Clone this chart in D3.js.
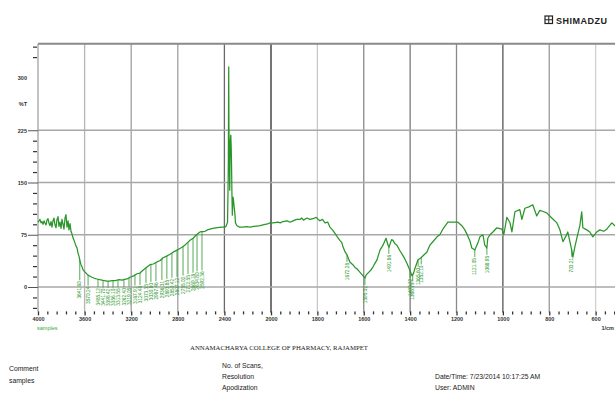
<!DOCTYPE html>
<html><head><meta charset="utf-8">
<script src="https://cdn.jsdelivr.net/npm/d3@7"></script>
<style>body{margin:0;background:#fff}svg{display:block;font-family:Arial,"Liberation Sans",sans-serif}</style>
</head><body><svg id="c" width="615" height="393"></svg>
<script>
// ---- data (wavenumber in 1/cm, %T) ----
const wavenumbers = [4000,3991,3983,3974,3966,3957,3948,3940,3931,3923,3914,3905,3897,3888,3880,3871,3863,3854,3845,3837,3828,3820,3811,3802,3794,3785,3777,3768,3760,3751,3742,3734,3725,3717,3708,3700,
3691,3682,3674,3665,3657,3648,3639,3631,3622,3614,3600,3588,3571,3553,3536,3515,3494,3470,3451,3430,3408,3385,3365,3340,3322,3300,3279,3257,3236,3210,3180,3150,3125,3099,3070,3039,3010,2979,2950,2927,2900,2867,2840,2807,2785,2764,2740,2721,2695,2669,2640,2609,2590,2566,2545,2524,2500,2472,2445,2421,2395,2386,
2373,2368,2366,2363,2361,2359,2356,2354,2352,2349,2345,2341,2338,2336,2332,2326,2322,2318,2310,2305,2292,2270,2240,2210,2180,2150,2120,2094,2060,2030,2009,
1991,1970,1960,1948,1930,1918,1905,1890,1875,1868,1860,1845,1832,1819,1805,1796,1789,1778,1767,1755,1746,1735,1724,1714,1703,1695,1690,1680,1672,1660,1647,1638,1629,1616,1603,1595,1590,1582,1570,1560,1550,1543,1530,1517,1504,1495,1491,1480,1474,1465,1457,1444,1427,1414,1401,1392,1385,1379,1366,1353,1341,1328,1315,1302,1284,1272,1259,1237,1216,1194,1177,1164,1151,1142,1134,1121,1108,1099,1086,1078,1069,1065,1056,1043,1026,1004,996,983,970,961,948,927,918,905,888,871,854,841,823,810,789,767,754,741,728,720,711,703,698,690,681,668,660,655,638,625,612,595,582,565,552,530,517,496,453,401];
const transmittance = [93,95,97,92,94,90,95,92,89,96,98,91,88,94,86,95,99,89,85,97,101,87,93,84,97,90,83,99,104,86,95,82,91,80,76,71,
67,63,59,56,49,44,37,32,29,25,22,20,17,15.5,14,12.5,11.5,10.5,10,9,8.5,8.5,9,9,10,10.5,10,11,11.5,14,16,19,20,24,28,32,33,36,38,42,44,47,50,53,55,57,60,63,67,70,75,79,79.5,80,82,83,84,85,85.5,86,86,87,
93,150,182,316,230,197,160,139,175,211,218,197,168,140,103,129,125,118,105,92,88,86,86,86.5,86,87,87.5,88,89.5,90.5,92,
92,93,92,94,95,93,95,97,97,99,96,99,97,98,100,97,95,97,92,93,86,82,77,72,67,64,58,50,46,36,32,28,26,21,16,13,17,20,24,29,35,39,53,60,70,60,57,68,67,62,60,52,43,34,24,16,20,27,39,42,46,50,60,65,72,75,83,93,93,93,88,82,73,66,56,53,63,72,75,60,56,70,75,79,85,83,75,100,93,79,108,111,97,113,115,118,102,110,108,106,99,92,82,65,73,79,65,53,43,57,70,88,108,85,82,79,72,79,82,80,83,92,88,85,88,86];

const xMajorTicks = [4000,3600,3200,2800,2400,2000,1800,1600,1400,1200,1000,800,600,400];
const yMajorTicks = [0,75,150,225];
const yExtraLabel = 300;

const peakWavenumbers = [3641.60,3570.24,3485.12,3441.70,3398.42,3356.10,3313.55,3262.40,3219.05,3167.91,3124.48,3073.33,3030.80,2987.46,2936.31,2893.85,2850.42,2807.12,2755.02,2712.55,2669.18,2634.80,2592.36,
1672.28,1595.02,1491.86,1400.32,1388.75,1365.60,1352.10,1121.05,1068.95,703.21];

const titleText = "ANNAMACHARYA COLLEGE OF PHARMACY, RAJAMPET";
const footerLeft = ["Comment", "samples"];
const footerMid = ["No. of Scans,", "Resolution", "Apodization"];
const footerRight = ["Date/Time: 7/23/2014 10:17:25 AM", "User: ADMIN"];

// ---- drawing ----
const svg = d3.select("#c");
const x = d3.scaleLinear().domain([4000, 2000, 400]).range([38, 271, 642]);
const y = d3.scaleLinear().domain([0, 300]).range([287, 78]);
const yTop = y(349), yBot = y(-35);
const green = "#2a962a";

// vertical grid
const gridColor = {3600:"#b5b5b5",3200:"#a0a0a0",2800:"#a0a0a0",2400:"#6a6a6a",2000:"#2a2a2a",1800:"#c8c8c8",1600:"#8a8a8a",1400:"#7a7a7a",1200:"#8a8a8a",1000:"#555",800:"#999",600:"#d0d0d0",400:"#999"};
svg.append("g").selectAll("line").data(xMajorTicks.filter(d => d < 4000)).join("line")
  .attr("x1", d => x(d)).attr("x2", d => x(d)).attr("y1", yTop).attr("y2", yBot + 1)
  .attr("stroke", d => gridColor[d]).attr("stroke-width", 1.3);
// horizontal grid
svg.append("g").selectAll("line").data(yMajorTicks).join("line")
  .attr("x1", x(4000)).attr("x2", 615).attr("y1", d => y(d)).attr("y2", d => y(d))
  .attr("stroke", "#a8a8a8").attr("stroke-width", 1.5);
// frame
svg.append("line").attr("x1", x(4000)).attr("x2", 615).attr("y1", yTop).attr("y2", yTop).attr("stroke", "#8a8a8a").attr("stroke-width", 2);
svg.append("line").attr("x1", x(4000)).attr("x2", x(4000)).attr("y1", yTop).attr("y2", yBot).attr("stroke", "#9a9a9a").attr("stroke-width", 1.2);

// y axis
const yMinor = d3.range(-30, 226, 15).filter(d => !yMajorTicks.includes(d)).concat([330, 345]);
const gy1 = svg.append("g").attr("transform", `translate(${x(4000) - 1},0)`)
  .call(d3.axisLeft(y).tickValues(yMinor).tickSize(4).tickFormat(""));
gy1.select(".domain").remove();
gy1.selectAll("line").attr("stroke", "#333").attr("stroke-width", 1.2);
const gy2 = svg.append("g").attr("transform", `translate(${x(4000)},0)`)
  .call(d3.axisLeft(y).tickValues(yMajorTicks).tickSize(10).tickPadding(1).tickFormat(d3.format("d")));
gy2.select(".domain").remove();
gy2.selectAll("line").attr("stroke", "#555").attr("stroke-width", 1);
gy2.selectAll("text").attr("font-size", 5.5).attr("fill", "#333").attr("font-weight", "bold");
svg.append("text").attr("x", 27).attr("y", y(yExtraLabel)).attr("dy", "0.35em").attr("text-anchor", "end")
  .attr("font-size", 5.5).attr("font-weight", "bold").attr("fill", "#333").text(yExtraLabel);
svg.append("text").attr("x", 27).attr("y", y(263)).attr("dy", "0.35em").attr("text-anchor", "end")
  .attr("font-size", 5.5).attr("font-weight", "bold").attr("fill", "#333").text("%T");

// x axis
const xMinor = [];
for (let i = 0; i < xMajorTicks.length - 1; i++) {
  const a = xMajorTicks[i], b = xMajorTicks[i + 1];
  for (let k = 1; k < 5; k++) xMinor.push(a + (b - a) * k / 5);
}
const gx1 = svg.append("g").attr("transform", `translate(0,${yBot})`)
  .call(d3.axisBottom(x).tickValues(xMinor).tickSize(3).tickFormat(""));
gx1.select(".domain").remove();
gx1.selectAll("line").attr("stroke", "#333").attr("stroke-width", 1.3);
const gx2 = svg.append("g").attr("transform", `translate(0,${yBot})`)
  .call(d3.axisBottom(x).tickValues(xMajorTicks.filter(d => x(d) < 610)).tickSize(4).tickPadding(2).tickFormat(d3.format("d")));
gx2.select(".domain").remove();
gx2.selectAll("line").attr("stroke", "#333").attr("stroke-width", 1.3);
gx2.selectAll("text").attr("font-size", 5.5).attr("fill", "#333").attr("font-weight", "bold");
svg.append("text").attr("x", 614).attr("y", yBot + 19).attr("text-anchor", "end").attr("font-size", 5.5).attr("font-weight", "bold").attr("fill", "#333").text("1/cm");

// spectrum
const line = d3.line().x((d, i) => x(wavenumbers[i])).y((d, i) => y(transmittance[i]));
svg.append("path").datum(transmittance).attr("d", line).attr("fill", "none")
  .attr("stroke", green).attr("stroke-width", 1.25).attr("stroke-linejoin", "round");

// peak labels
function tAt(w) {
  for (let i = 0; i < wavenumbers.length - 1; i++) {
    const a = wavenumbers[i], b = wavenumbers[i + 1];
    if (w <= a && w >= b) {
      const f = (a - w) / (a - b);
      return transmittance[i] + f * (transmittance[i + 1] - transmittance[i]);
    }
  }
  return transmittance[transmittance.length - 1];
}
const pk = svg.append("g");
peakWavenumbers.forEach(w => {
  const t = tAt(w);
  const labT = w > 2400 ? t * 0.35 - 4 : t - 10;
  const px = x(w), py = y(t), ly = y(labT);
  pk.append("line").attr("x1", px).attr("x2", px).attr("y1", py).attr("y2", ly)
    .attr("stroke", green).attr("stroke-width", 0.8);
  pk.append("text").attr("transform", `translate(${px},${ly + 1}) rotate(-90)`)
    .attr("text-anchor", "end").attr("dy", "0.35em").attr("font-size", 4.8)
    .attr("fill", green).text(w.toFixed(2));
});

// labels below axis
svg.append("text").attr("x", 37).attr("y", yBot + 19).attr("font-size", 5.5).attr("fill", "#3aa83a").text("samples");

// header logo
const logo = svg.append("g").attr("transform", "translate(545,16)");
logo.append("rect").attr("x", 0).attr("y", 0).attr("width", 7.5).attr("height", 7.5).attr("fill", "none").attr("stroke", "#222").attr("stroke-width", 1.2);
logo.append("line").attr("x1", 0).attr("x2", 7.5).attr("y1", 3.75).attr("y2", 3.75).attr("stroke", "#222").attr("stroke-width", 1);
logo.append("line").attr("x1", 3.75).attr("x2", 3.75).attr("y1", 0).attr("y2", 7.5).attr("stroke", "#222").attr("stroke-width", 1);
logo.append("text").attr("x", 11).attr("y", 7.5).attr("font-size", 9).attr("font-weight", "bold").attr("letter-spacing", 0.5).attr("fill", "#222").text("SHIMADZU");

// title
svg.append("text").attr("x", 190).attr("y", 349.5).attr("textLength", 178).attr("lengthAdjust", "spacingAndGlyphs")
  .attr("font-family", "'Liberation Serif','Times New Roman',serif").attr("font-size", 6.5).attr("fill", "#222").text(titleText);

// footer
const ft = (txt, xx, yy) => svg.append("text").attr("x", xx).attr("y", yy).attr("font-size", 6.8).attr("fill", "#222").text(txt);
footerLeft.forEach((t, i) => ft(t, 9, 371 + i * 11.5));
footerMid.forEach((t, i) => ft(t, 222, 368 + i * 11));
footerRight.forEach((t, i) => ft(t, 435, 379 + i * 11));
</script>
</body></html>
